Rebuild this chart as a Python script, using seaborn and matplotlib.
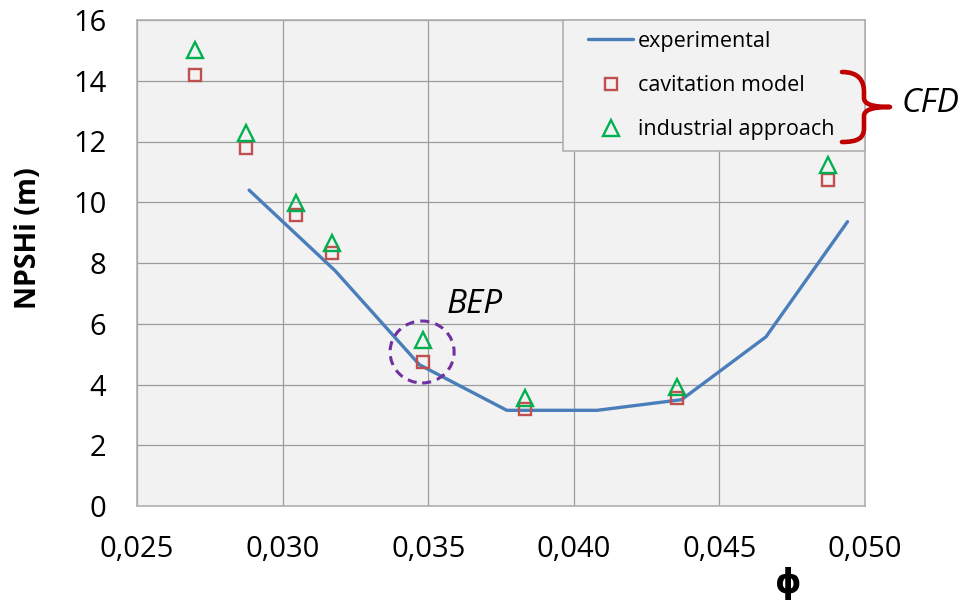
import numpy as np
import pandas as pd
import matplotlib
matplotlib.use("Agg")
import matplotlib.pyplot as plt
import seaborn as sns
from matplotlib.patches import Rectangle, Ellipse, PathPatch
from matplotlib.path import Path
from matplotlib.ticker import FixedLocator, FixedFormatter

# ---------------- data ----------------
exp_phi = [0.02885, 0.0318, 0.0347, 0.0377, 0.0408, 0.0437, 0.0466, 0.0494]
exp_npsh = [10.40, 7.75, 4.65, 3.15, 3.15, 3.50, 5.57, 9.36]

cfd_phi = [0.0270, 0.02874, 0.03046, 0.0317, 0.03483, 0.03833, 0.04353, 0.04874]
cav_npsh = [14.19, 11.80, 9.58, 8.32, 4.75, 3.18, 3.55, 10.73]
ind_npsh = [15.01, 12.27, 9.99, 8.65, 5.47, 3.55, 3.93, 11.23]

x_ticks = [0.025, 0.030, 0.035, 0.040, 0.045, 0.050]
x_tick_labels = ["0,025", "0,030", "0,035", "0,040", "0,045", "0,050"]
y_ticks = [0, 2, 4, 6, 8, 10, 12, 14, 16]
y_tick_labels = ["0", "2", "4", "6", "8", "10", "12", "14", "16"]

series_labels = ["experimental", "cavitation model", "industrial approach"]

# ---------------- style ----------------
sns.set_style("white")
plt.rcParams["font.family"] = ["Open Sans", "DejaVu Sans"]
plt.rcParams["text.color"] = "black"

W, H = 964, 604
fig = plt.figure(figsize=(W / 100, H / 100), dpi=100)
L, R, T, B = 137, 865, 20, 506
ax = fig.add_axes([L / W, 1 - B / H, (R - L) / W, (B - T) / H])
ax.set_facecolor("#f2f2f2")

blue = "#4a7ebb"
red = "#c0504d"
green = "#00b050"

exp_df = pd.DataFrame({"phi": exp_phi, "npsh": exp_npsh})
cfd_df = pd.DataFrame({"phi": cfd_phi, "cav": cav_npsh, "ind": ind_npsh})

sns.lineplot(data=exp_df, x="phi", y="npsh", ax=ax, color=blue, linewidth=2.4,
             label=series_labels[0], zorder=3, sort=False)
sns.lineplot(data=cfd_df, x="phi", y="cav", ax=ax, linestyle="", marker="s",
             markersize=8.8, markerfacecolor="none", markeredgecolor=red,
             markeredgewidth=1.7, color=red, label=series_labels[1], zorder=4, sort=False)
sns.lineplot(data=cfd_df, x="phi", y="ind", ax=ax, linestyle="", marker="^",
             markersize=11, markerfacecolor="none", markeredgecolor=green,
             markeredgewidth=1.7, color=green, label=series_labels[2], zorder=5, sort=False)

ax.set_xlim(0.025, 0.050)
ax.set_ylim(0, 16)
ax.xaxis.set_major_locator(FixedLocator(x_ticks))
ax.xaxis.set_major_formatter(FixedFormatter(x_tick_labels))
ax.yaxis.set_major_locator(FixedLocator(y_ticks))
ax.yaxis.set_major_formatter(FixedFormatter(y_tick_labels))
ax.tick_params(axis="both", length=0, labelsize=21, colors="black")
ax.tick_params(axis="y", pad=22)
ax.tick_params(axis="x", pad=21)
ax.grid(True, color="#9c9c9c", linewidth=0.9)
ax.set_axisbelow(True)
for s in ax.spines.values():
    s.set_color("#b0b0b0")
    s.set_linewidth(1.2)
ax.set_xlabel("")
ax.set_ylabel("")

# legend frame drawn manually
AW, AH = R - L, B - T
lx0, ly0, lx1, ly1 = 563, 20, 865, 151
ax.add_patch(Rectangle(((lx0 - L) / AW, (B - ly1) / AH), (lx1 - lx0) / AW, (ly1 - ly0) / AH,
                       transform=ax.transAxes, facecolor="#f2f2f2", edgecolor="#b0b0b0",
                       linewidth=1.2, zorder=6, clip_on=False))
handles, labels = ax.get_legend_handles_labels()
leg = ax.legend(handles, labels, loc="upper left",
                bbox_to_anchor=((588 - L) / AW, (B - 31) / AH),
                frameon=False, fontsize=15.5, handlelength=2.1, handletextpad=0.2,
                labelspacing=1.08, borderpad=0, borderaxespad=0)
leg.set_zorder(7)
for t in leg.get_texts():
    t.set_color("black")

# BEP annotation
ax.add_patch(Ellipse((0.03479, 5.07), width=0.0022, height=2.04, fill=False,
                     edgecolor="#7030a0", linewidth=2.2, linestyle=(0, (3, 2)), zorder=6))
ax.text(0.03564, 6.62, "BEP", fontsize=24, fontstyle="italic", ha="left", va="center")

# Axis labels
fig.text(28 / W, 1 - 238 / H, "NPSHi (m)", rotation=90, ha="center", va="center",
         fontsize=20.5, fontweight="bold")
fig.text(788 / W, 1 - 584 / H, "\u03d5", ha="center", va="center", fontsize=24,
         fontweight="bold", family=["Open Sans", "DejaVu Sans"])

# CFD brace
def P(x, y):
    return (x / W, 1 - y / H)

verts = [P(842, 72), P(858, 72), P(864, 80), P(864, 92),
         P(864, 98),
         P(864, 104), P(872, 107), P(890, 107),
         P(872, 107), P(864, 110), P(864, 116),
         P(864, 128),
         P(864, 138), P(858, 142), P(842, 142)]
codes = [Path.MOVETO, Path.CURVE4, Path.CURVE4, Path.CURVE4,
         Path.LINETO,
         Path.CURVE4, Path.CURVE4, Path.CURVE4,
         Path.CURVE4, Path.CURVE4, Path.CURVE4,
         Path.LINETO,
         Path.CURVE4, Path.CURVE4, Path.CURVE4]
fig.patches.append(PathPatch(Path(verts, codes), transform=fig.transFigure,
                             facecolor="none", edgecolor="#c00000", linewidth=3.3,
                             capstyle="round", joinstyle="round", zorder=10))
fig.text(902 / W, 1 - 104 / H, "CFD", ha="left", va="center", fontsize=24,
         fontstyle="italic")

fig.savefig("out.png", dpi=100)
